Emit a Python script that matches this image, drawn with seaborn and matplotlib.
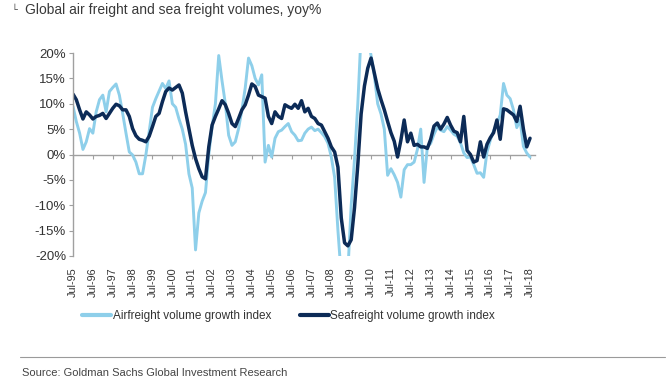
import numpy as np
import pandas as pd
import matplotlib
matplotlib.use("Agg")
import matplotlib.pyplot as plt
from matplotlib.lines import Line2D
import seaborn as sns

# ---- data (bimonthly, Jul-95 .. Jul-18), yoy % ----
dates = pd.date_range("1995-07-01", "2018-07-01", freq="2MS")

airfreight = [
    9.5, 6.5, 4.2, 1.0, 2.5, 5.1, 4.2, 8.4, 10.8, 11.7,
    8.4, 12.4, 13.2, 13.9, 11.7, 8.1, 4.2, 0.5, -0.1, -1.5,
    -3.8, -3.8, -0.1, 4.5, 9.3, 11.0, 12.5, 14.0, 13.0, 14.5,
    10.0, 9.3, 7.0, 5.0, 2.0, -3.8, -6.6, -18.8, -11.5, -9.2,
    -7.5, 0.0, 5.5, 10.0, 19.5, 14.5, 10.0, 3.8, 1.8, 2.5,
    5.1, 8.8, 13.1, 19.0, 17.5, 15.0, 13.7, 15.7, -1.5, 1.8,
    -0.5, 3.2, 4.5, 4.8, 5.5, 6.1, 4.5, 3.8, 2.7, 2.8,
    4.2, 5.0, 5.4, 4.7, 5.0, 4.3, 3.5, 2.2, -0.5, -4.5,
    -15.0, -24.0, -25.0, -23.0, -10.0, -1.0, 10.0, 24.0, 26.0, 23.0,
    19.5, 15.5, 10.0, 8.0, 5.0, -4.1, -2.8, -4.0, -5.5, -8.4,
    -3.0, -2.0, -2.0, -1.5, 1.0, 5.0, -5.5, 1.5, 2.2, 4.0,
    5.4, 4.8, 4.5, 5.5, 4.8, 4.0, 3.6, 2.3, 0.3, -0.6,
    -0.5, -2.0, -3.7, -3.6, -4.5, 0.5, 2.8, 4.7, 6.0, 7.8,
    14.0, 11.7, 11.0, 8.8, 5.3, 6.8, 1.6, 0.3, -0.5,
]

seafreight = [
    11.9, 10.8, 8.8, 7.0, 8.4, 7.8, 7.0, 7.5, 7.7, 8.1,
    7.1, 8.1, 9.1, 9.9, 9.6, 8.8, 8.8, 7.5, 5.1, 3.7,
    3.0, 2.8, 2.5, 3.6, 5.5, 7.5, 8.1, 10.4, 12.4, 13.1,
    12.7, 13.2, 13.7, 12.1, 8.4, 5.1, 1.8, -0.8, -2.8, -4.4,
    -4.8, 1.5, 5.8, 7.5, 9.0, 10.6, 9.8, 8.1, 6.1, 5.5,
    7.1, 8.8, 9.8, 11.7, 13.9, 13.4, 11.7, 11.4, 11.1, 7.5,
    6.1, 8.4, 7.5, 7.1, 9.8, 9.4, 9.1, 9.9, 9.1, 10.6,
    8.4, 9.1, 7.5, 7.1, 6.1, 5.8, 4.5, 3.2, 1.5, 0.5,
    -2.5, -12.5, -17.4, -18.0, -16.8, -10.5, -2.0, 8.0, 13.5, 17.0,
    19.0, 16.0, 13.0, 10.8, 8.8, 6.5, 4.3, 2.6, -0.5, 2.8,
    6.8, 2.5, 4.2, 1.8, 2.0, 1.5, 1.5, 1.2, 3.0, 5.6,
    6.2, 5.0, 6.0, 7.3, 5.8, 4.6, 4.3, 2.5, 7.5, 0.8,
    0.0, -1.5, -1.2, 2.5, -0.5, 2.0, 3.3, 4.3, 6.8, 3.0,
    9.0, 8.8, 8.3, 7.8, 6.5, 9.5, 5.0, 1.5, 3.2,
]

series_names = ["Airfreight volume growth index", "Seafreight volume growth index"]
series_colors = ["#8ecfea", "#0c2b57"]

tick_years = list(range(1995, 2019))
tick_labels = ["Jul-95", "Jul-96", "Jul-97", "Jul-98", "Jul-99", "Jul-00",
               "Jul-01", "Jul-02", "Jul-03", "Jul-04", "Jul-05", "Jul-06",
               "Jul-07", "Jul-08", "Jul-09", "Jul-10", "Jul-11", "Jul-12",
               "Jul-13", "Jul-14", "Jul-15", "Jul-16", "Jul-17", "Jul-18"]
y_ticks = [-20, -15, -10, -5, 0, 5, 10, 15, 20]

assert len(airfreight) == len(dates) == len(seafreight)

t = dates.year + (dates.month - 1) / 12.0
df = pd.concat([
    pd.DataFrame({"t": t, "value": airfreight, "series": series_names[0]}),
    pd.DataFrame({"t": t, "value": seafreight, "series": series_names[1]}),
], ignore_index=True)

# ---- figure ----
sns.set_theme(style="white")
plt.rcParams["font.family"] = ["Liberation Sans", "DejaVu Sans"]

fig = plt.figure(figsize=(6.7, 3.8), dpi=100)
ax = fig.add_axes([73 / 670, 1 - 256 / 380, (535 - 73) / 670, (256 - 53) / 380])

sns.lineplot(data=df, x="t", y="value", hue="series", hue_order=series_names,
             palette=series_colors, linewidth=2.2, ax=ax, legend=False,
             sort=False)
for ln, lw in zip(ax.lines, [2.1, 2.5]):
    ln.set_linewidth(lw)
    ln.set_solid_joinstyle("round")

tick_pos = [y + 0.5 for y in tick_years]
ax.set_xlim(1995.5, 2018.75)
ax.set_ylim(-20, 20)
ax.set_yticks(y_ticks)
ax.set_yticklabels([f"{v}%" for v in y_ticks])
ax.set_xlabel("")
ax.set_ylabel("")

for s in ["top", "right"]:
    ax.spines[s].set_visible(False)
ax.spines["left"].set_color("#a0a0a0")
ax.spines["left"].set_linewidth(1.0)
ax.spines["bottom"].set_position(("data", 0))
ax.spines["bottom"].set_color("#a0a0a0")
ax.spines["bottom"].set_linewidth(1.0)
ax.spines["bottom"].set_zorder(1)

ax.set_xticks(tick_pos)
ax.tick_params(axis="x", direction="out", length=3, width=0.8, color="#a0a0a0",
               labelbottom=False, bottom=True)
ax.tick_params(axis="y", direction="out", length=3, width=0.8, color="#a0a0a0",
               labelsize=9.5, labelcolor="#333333", pad=2, left=True)

sec = ax.secondary_xaxis("bottom")
sec.set_xticks(tick_pos)
sec.set_xticklabels(tick_labels, rotation=90)
sec.tick_params(length=0, labelsize=7.8, labelcolor="#333333", pad=8)
sec.spines["bottom"].set_visible(False)

handles = [Line2D([], [], color=c, lw=3) for c in series_colors]
fig.legend(handles, series_names, loc="center", bbox_to_anchor=(0.431, 1 - 316 / 380),
           ncol=2, frameon=False, fontsize=8.5, handlelength=2.45,
           handletextpad=0.15, columnspacing=2.4, labelcolor="#333333")

fig.text(25 / 670, 1 - 14 / 380, "Global air freight and sea freight volumes, yoy%",
         fontsize=10, color="#3a3a3a", va="baseline", ha="left")
fig.text(11 / 670, 1 - 13 / 380, "\u2514", fontsize=7, color="#555555",
         va="baseline", ha="left", family=["DejaVu Sans"])

fig.add_artist(Line2D([20 / 670, 665 / 670], [1 - 357 / 380, 1 - 357 / 380],
                      color="#9a9a9a", lw=0.8, transform=fig.transFigure))
fig.text(22 / 670, 1 - 373 / 380, "Source: Goldman Sachs Global Investment Research",
         fontsize=8, color="#444444", va="center", ha="left")

fig.savefig("out.png", dpi=100)
